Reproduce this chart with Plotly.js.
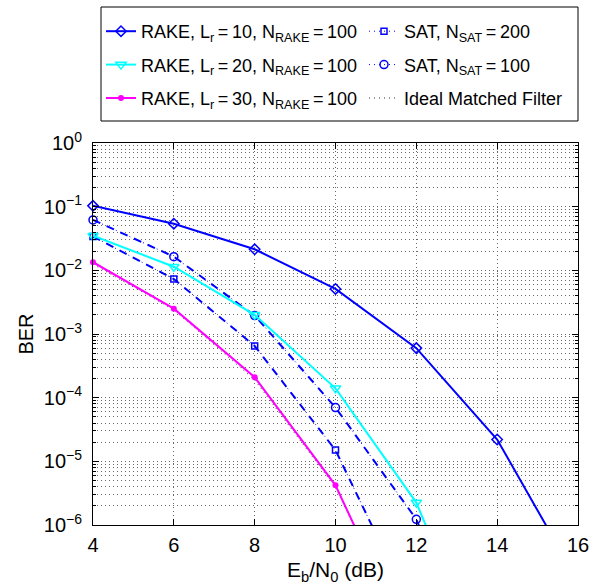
<!DOCTYPE html>
<html>
<head>
<meta charset="utf-8">
<script src="https://cdn.plot.ly/plotly-3.0.1.min.js"></script>
<style>html,body{margin:0;padding:0;background:#fff;}#chart{width:603px;height:586px;}</style>
</head>
<body>
<div id="chart"></div>
<script>
// Eb/N0 (dB)
const ebn0 = [4, 6, 8, 10, 12, 14, 16];
// BER values (last points fall below the visible range)
const rake10 = [0.103, 0.054, 0.0214, 0.0051, 6.0e-4, 2.2e-5, 1.3e-7];
const rake20 = [0.035, 0.0114, 0.0020, 1.4e-4, 2.25e-6, 2e-9];
const rake30 = [0.0134, 0.0025, 2.1e-4, 4.2e-6, 8e-9];
const sat200 = [0.034, 0.0073, 6.5e-4, 1.5e-5, 3.5e-8];
const sat100 = [0.062, 0.0164, 1.95e-3, 7.0e-5, 1.23e-6, 1e-9];
const ideal  = [0.0125, 0.0024, 1.9e-4, 3.9e-6, 9e-9];

const names = {
  rake10: 'RAKE, L<sub>r</sub>\u2009=\u200910, N<sub>RAKE</sub>\u2009=\u2009100',
  rake20: 'RAKE, L<sub>r</sub>\u2009=\u200920, N<sub>RAKE</sub>\u2009=\u2009100',
  rake30: 'RAKE, L<sub>r</sub>\u2009=\u200930, N<sub>RAKE</sub>\u2009=\u2009100',
  sat200: 'SAT, N<sub>SAT</sub>\u2009=\u2009200',
  sat100: 'SAT, N<sub>SAT</sub>\u2009=\u2009100',
  ideal: 'Ideal Matched Filter'
};
const yTickVals = [1e-6, 1e-5, 1e-4, 1e-3, 1e-2, 1e-1, 1];
const yTickText = ['10<sup>−6</sup>','10<sup>−5</sup>','10<sup>−4</sup>','10<sup>−3</sup>','10<sup>−2</sup>','10<sup>−1</sup>','10<sup>0</sup>'];
const xTickVals = [4, 6, 8, 10, 12, 14, 16];

const minorVals = [];
for (let e = -6; e < 0; e++) for (let m = 2; m <= 9; m++) minorVals.push(m * Math.pow(10, e));

const BLUE = '#0000ff', CYAN = '#00ffff', MAG = '#ff00ff';
const sl = (arr) => ebn0.slice(0, arr.length);

const traces = [
  {x: sl(ideal), y: ideal, name: names.ideal, mode: 'lines', line: {color: '#333', width: 1, dash: '1px,4px'},
   legend: 'legend2', legendgroup: 'g6', legendrank: 3},
  {x: sl(sat200), y: sat200, mode: 'lines', line: {color: BLUE, width: 2, dash: '8px,7px'}, showlegend: false, hoverinfo: 'skip'},
  {x: sl(sat200), y: sat200, name: names.sat200, mode: 'lines+markers', line: {color: BLUE, width: 1, dash: '1px,4px'},
   marker: {symbol: 'square-open', size: 6, color: BLUE, line: {width: 1.5}}, legend: 'legend2', legendgroup: 'g4', legendrank: 1},
  {x: sl(sat100), y: sat100, mode: 'lines', line: {color: BLUE, width: 2, dash: '8px,7px'}, showlegend: false, hoverinfo: 'skip'},
  {x: sl(sat100), y: sat100, name: names.sat100, mode: 'lines+markers', line: {color: BLUE, width: 1, dash: '1px,4px'},
   marker: {symbol: 'circle-open', size: 8, color: BLUE, line: {width: 1.5}}, legend: 'legend2', legendgroup: 'g5', legendrank: 2},
  {x: sl(rake30), y: rake30, name: names.rake30, mode: 'lines+markers', line: {color: MAG, width: 2},
   marker: {symbol: 'circle', size: 6, color: MAG}, legend: 'legend', legendgroup: 'g3', legendrank: 3},
  {x: sl(rake20), y: rake20, name: names.rake20, mode: 'lines+markers', line: {color: CYAN, width: 2},
   marker: {symbol: 'triangle-down-open', size: 9, color: CYAN, line: {width: 1.5}}, legend: 'legend', legendgroup: 'g2', legendrank: 2},
  {x: sl(rake10), y: rake10, name: names.rake10, mode: 'lines+markers', line: {color: BLUE, width: 2},
   marker: {symbol: 'diamond-open', size: 8, color: BLUE, line: {width: 1.5}}, legend: 'legend', legendgroup: 'g1', legendrank: 1}
];
traces.forEach(t => { t.type = 'scatter'; t.cliponaxis = false; });

const W = 603, H = 586, L = 93, R = 25, T = 143, B = 61;
const pw = W - L - R, ph = H - T - B;
const px = (p) => (p - L) / pw;
const py = (p) => (H - B - p) / ph;

const gridCol = 'rgb(105,105,105)';
const gridDash = '1px,3px';
const layout = {
  width: W, height: H,
  margin: {l: L, r: R, t: T, b: B, pad: 0},
  paper_bgcolor: '#fff', plot_bgcolor: '#fff',
  font: {family: '"Liberation Sans", Arial, Helvetica, sans-serif', size: 18, color: '#000'},
  showlegend: true,
  xaxis: {
    type: 'linear', range: [4, 16], tickmode: 'array', tickvals: xTickVals,
    ticks: 'inside', ticklen: 6, tickcolor: '#000', showline: true, linecolor: '#000', linewidth: 1, mirror: 'ticks',
    showgrid: true, gridcolor: gridCol, griddash: gridDash, gridwidth: 1, zeroline: false,
    title: {text: 'E<sub>b</sub>/N<sub>0</sub> (dB)', font: {size: 21}, standoff: 7},
    tickfont: {size: 20}, ticklabelstandoff: 2
  },
  yaxis: {
    type: 'log', range: [-6, 0], tickmode: 'array', tickvals: yTickVals, ticktext: yTickText,
    ticks: 'inside', ticklen: 6, tickcolor: '#000', showline: true, linecolor: '#000', linewidth: 1, mirror: 'ticks',
    showgrid: true, gridcolor: gridCol, griddash: gridDash, gridwidth: 1, zeroline: false,
    minor: {tickmode: 'array', tickvals: minorVals, ticks: 'inside', ticklen: 3, tickcolor: '#000',
            showgrid: true, gridcolor: gridCol, griddash: gridDash, gridwidth: 1},
    title: {text: 'BER', font: {size: 20}, standoff: 4},
    tickfont: {size: 20}, ticklabelstandoff: 6
  },
  legend: {x: px(101), y: py(13), xanchor: 'left', yanchor: 'top', bgcolor: 'rgba(0,0,0,0)', borderwidth: 0,
           font: {size: 18}, tracegroupgap: 7, traceorder: 'grouped'},
  legend2: {x: px(364), y: py(13), xanchor: 'left', yanchor: 'top', bgcolor: 'rgba(0,0,0,0)', borderwidth: 0,
           font: {size: 18}, tracegroupgap: 7, traceorder: 'grouped'},
  shapes: [{type: 'rect', xref: 'paper', yref: 'paper', x0: px(101), x1: px(578), y0: py(121), y1: py(7),
            line: {color: '#000', width: 1}, fillcolor: 'rgba(0,0,0,0)', layer: 'below'}]
};

Plotly.newPlot('chart', traces, layout, {staticPlot: true, displayModeBar: false});
</script>
</body>
</html>
